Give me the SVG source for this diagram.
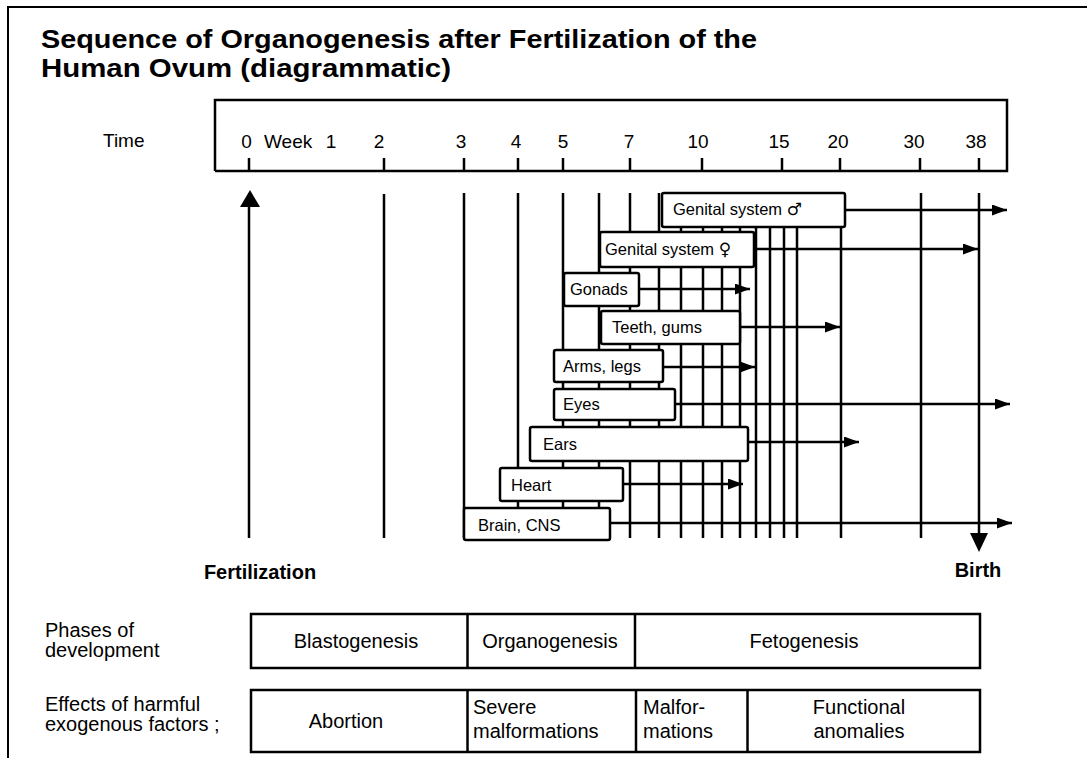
<svg xmlns="http://www.w3.org/2000/svg" width="1087" height="758" viewBox="0 0 1087 758">
<defs>
<style>
text{font-family:"Liberation Sans",Arial,"DejaVu Sans",sans-serif;fill:#000}
.title{font-size:25px;font-weight:bold}
.axis{font-size:19px}
.lbl{font-size:16.5px}
.big{font-size:20px}
.bold{font-size:20px;font-weight:bold}
.sym{font-family:"DejaVu Sans",sans-serif;font-size:17px}
.frame{fill:none;stroke:#000;stroke-width:2}
.grid line{stroke:#000;stroke-width:2.5}
.box{fill:#fff;stroke:#000;stroke-width:2.5}
.conn line{stroke:#000;stroke-width:2.5;marker-end:url(#ah)}
.mid{text-anchor:middle}
</style>
<marker id="ah" markerUnits="userSpaceOnUse" markerWidth="15" markerHeight="11" refX="15" refY="5.5" orient="auto">
<path d="M0,0 L15,5.5 L0,11 z" fill="#000"/>
</marker>
</defs>
<rect width="1087" height="758" fill="#fff"/>
<path class="frame" d="M8,758 V7 H1087"/>
<g id="title">
<text class="title" x="41" y="48" textLength="716" lengthAdjust="spacingAndGlyphs">Sequence of Organogenesis after Fertilization of the</text>
<text class="title" x="41" y="77" textLength="410" lengthAdjust="spacingAndGlyphs">Human Ovum (diagrammatic)</text>
</g>
<g id="time-axis">
<text class="axis" x="103" y="147">Time</text>
<path class="frame" d="M215,171 V100 H1007 V171 H215" style="stroke-width:2.5"/>
<g class="grid">
<line x1="249" y1="158" x2="249" y2="171"/>
<line x1="384" y1="158" x2="384" y2="171"/>
<line x1="464" y1="158" x2="464" y2="171"/>
<line x1="518" y1="158" x2="518" y2="171"/>
<line x1="563" y1="158" x2="563" y2="171"/>
<line x1="630" y1="158" x2="630" y2="171"/>
<line x1="702" y1="158" x2="702" y2="171"/>
<line x1="782" y1="158" x2="782" y2="171"/>
<line x1="840" y1="158" x2="840" y2="171"/>
<line x1="920" y1="158" x2="920" y2="171"/>
<line x1="979" y1="158" x2="979" y2="171"/>
</g>
<text class="axis mid" x="246.5" y="148">0</text>
<text class="axis" x="264" y="148">Week</text>
<text class="axis mid" x="331" y="148">1</text>
<text class="axis mid" x="379" y="148">2</text>
<text class="axis mid" x="461" y="148">3</text>
<text class="axis mid" x="516" y="148">4</text>
<text class="axis mid" x="563" y="148">5</text>
<text class="axis mid" x="629" y="148">7</text>
<text class="axis mid" x="698" y="148">10</text>
<text class="axis mid" x="779" y="148">15</text>
<text class="axis mid" x="838" y="148">20</text>
<text class="axis mid" x="914" y="148">30</text>
<text class="axis mid" x="976" y="148">38</text>
</g>
<g id="week-lines" class="grid">
<line x1="249" y1="205" x2="249" y2="538"/>
<line x1="384" y1="194" x2="384" y2="538"/>
<line x1="464" y1="193" x2="464" y2="538"/>
<line x1="518" y1="193" x2="518" y2="538"/>
<line x1="563" y1="193" x2="563" y2="538"/>
<line x1="599" y1="193" x2="599" y2="538"/>
<line x1="630" y1="193" x2="630" y2="538"/>
<line x1="659" y1="193" x2="659" y2="538"/>
<line x1="681" y1="193" x2="681" y2="538"/>
<line x1="703" y1="193" x2="703" y2="538"/>
<line x1="722" y1="193" x2="722" y2="538"/>
<line x1="740" y1="193" x2="740" y2="538"/>
<line x1="756" y1="193" x2="756" y2="538"/>
<line x1="770" y1="193" x2="770" y2="538"/>
<line x1="784" y1="193" x2="784" y2="538"/>
<line x1="797" y1="193" x2="797" y2="538"/>
<line x1="841" y1="193" x2="841" y2="538"/>
<line x1="921" y1="193" x2="921" y2="538"/>
<line x1="979" y1="193" x2="979" y2="535"/>
</g>
<g id="fertilization">
<path d="M240,207 L250,190 L260,207 z" fill="#000"/>
<text class="bold mid" x="260" y="579">Fertilization</text>
</g>
<g id="birth">
<path d="M970,533 L979,552 L988,533 z" fill="#000"/>
<text class="bold mid" x="978" y="577">Birth</text>
</g>
<g id="connectors" class="conn">
<line x1="845" y1="210" x2="1007" y2="210"/>
<line x1="754" y1="249" x2="978" y2="249"/>
<line x1="639" y1="289" x2="750" y2="289"/>
<line x1="740" y1="327" x2="840" y2="327"/>
<line x1="663" y1="367" x2="755" y2="367"/>
<line x1="675" y1="404" x2="1010" y2="404"/>
<line x1="748" y1="442" x2="859" y2="442"/>
<line x1="623" y1="484" x2="743" y2="484"/>
<line x1="610" y1="523" x2="1012" y2="523"/>
</g>
<g id="genital-male">
<rect class="box" x="662" y="193" width="183" height="34" rx="2"/>
<text class="lbl" x="673" y="215">Genital system <tspan class="sym">♂</tspan></text>
</g>
<g id="genital-female">
<rect class="box" x="600" y="232" width="154" height="35" rx="2"/>
<text class="lbl" x="605" y="255">Genital system <tspan class="sym">♀</tspan></text>
</g>
<g id="gonads">
<rect class="box" x="564" y="273" width="75" height="33" rx="2"/>
<text class="lbl" x="570" y="295">Gonads</text>
</g>
<g id="teeth">
<rect class="box" x="601" y="311" width="139" height="33" rx="2"/>
<text class="lbl" x="612" y="333">Teeth, gums</text>
</g>
<g id="arms">
<rect class="box" x="554" y="350" width="109" height="32" rx="2"/>
<text class="lbl" x="563" y="372">Arms, legs</text>
</g>
<g id="eyes">
<rect class="box" x="554" y="389" width="121" height="31" rx="2"/>
<text class="lbl" x="563" y="410">Eyes</text>
</g>
<g id="ears">
<rect class="box" x="530" y="427" width="218" height="34" rx="2"/>
<text class="lbl" x="543" y="450">Ears</text>
</g>
<g id="heart">
<rect class="box" x="500" y="468" width="123" height="33" rx="2"/>
<text class="lbl" x="511" y="491">Heart</text>
</g>
<g id="brain">
<rect class="box" x="464" y="508" width="146" height="32" rx="2"/>
<text class="lbl" x="478" y="531">Brain, CNS</text>
</g>
<g id="phases">
<text class="big" x="45" y="637">Phases of</text>
<text class="big" x="45" y="657">development</text>
<rect class="box" x="251" y="614" width="729" height="54"/>
<line x1="467.5" y1="614" x2="467.5" y2="668" stroke="#000" stroke-width="2.5"/>
<line x1="635" y1="614" x2="635" y2="668" stroke="#000" stroke-width="2.5"/>
<text class="big mid" x="356" y="648">Blastogenesis</text>
<text class="big mid" x="550" y="648">Organogenesis</text>
<text class="big mid" x="804" y="648">Fetogenesis</text>
</g>
<g id="effects">
<text class="big" x="45" y="711">Effects of harmful</text>
<text class="big" x="45" y="731">exogenous factors ;</text>
<rect class="box" x="251" y="690" width="729" height="62"/>
<line x1="467.5" y1="690" x2="467.5" y2="752" stroke="#000" stroke-width="2.5"/>
<line x1="636" y1="690" x2="636" y2="752" stroke="#000" stroke-width="2.5"/>
<line x1="747.5" y1="690" x2="747.5" y2="752" stroke="#000" stroke-width="2.5"/>
<text class="big mid" x="346" y="728">Abortion</text>
<text class="big" x="473" y="714">Severe</text>
<text class="big" x="473" y="738">malformations</text>
<text class="big" x="643" y="714">Malfor-</text>
<text class="big" x="643" y="738">mations</text>
<text class="big mid" x="859" y="714">Functional</text>
<text class="big mid" x="859" y="738">anomalies</text>
</g>
</svg>
